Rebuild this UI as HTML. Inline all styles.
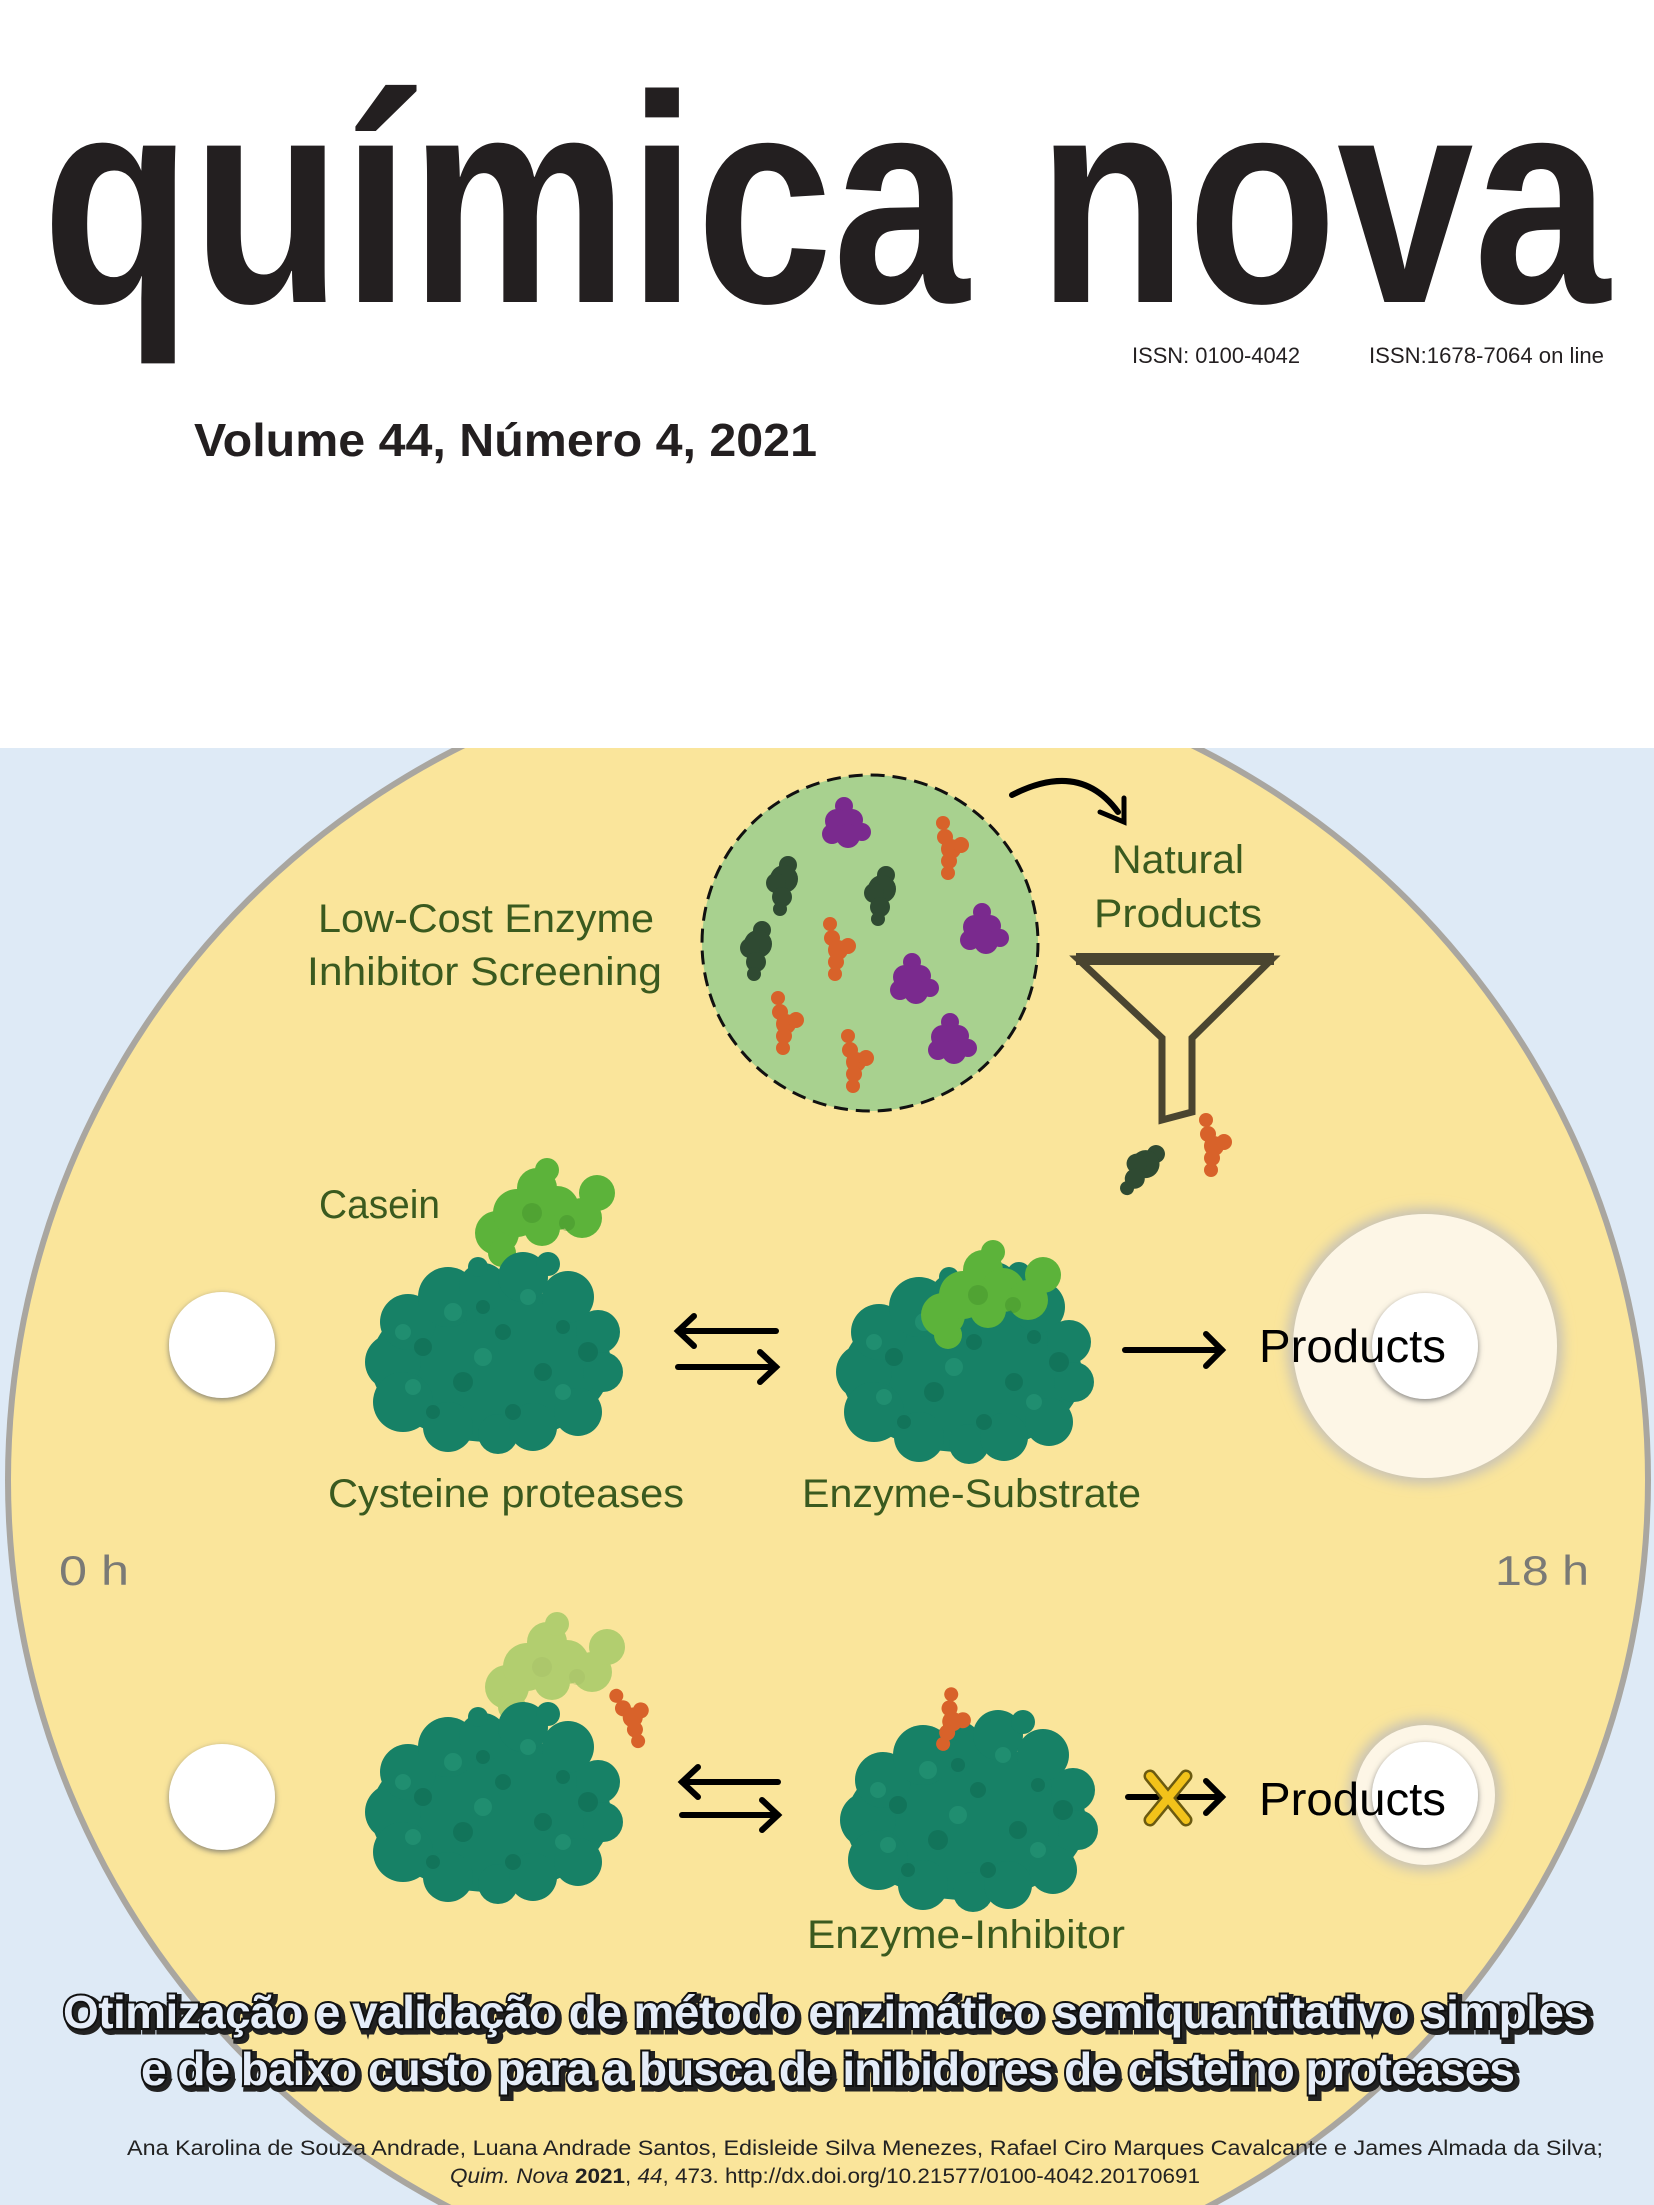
<!DOCTYPE html>
<html><head><meta charset="utf-8"><style>
html,body{margin:0;padding:0;background:#fff}
svg{display:block}
</style></head><body>
<svg width="1654" height="2205" viewBox="0 0 1654 2205" xmlns="http://www.w3.org/2000/svg">
<defs>
<g id="enz">
<g fill="#178166">
<ellipse cx="128" cy="112" rx="120" ry="78"/>
<rect x="20" y="60" width="216" height="110" rx="30"/>
<circle cx="30" cy="110" r="28"/><circle cx="45" cy="70" r="28"/><circle cx="85" cy="45" r="30"/>
<circle cx="120" cy="35" r="24"/><circle cx="160" cy="25" r="25"/><circle cx="185" cy="12" r="12"/>
<circle cx="205" cy="45" r="26"/><circle cx="235" cy="80" r="22"/><circle cx="240" cy="120" r="20"/>
<circle cx="40" cy="150" r="30"/><circle cx="85" cy="175" r="25"/><circle cx="135" cy="182" r="20"/>
<circle cx="170" cy="175" r="24"/><circle cx="215" cy="160" r="24"/><circle cx="115" cy="15" r="10"/>
</g>
<g fill="#0f6a52" opacity="0.55">
<circle cx="60" cy="95" r="9"/><circle cx="140" cy="80" r="8"/><circle cx="100" cy="130" r="10"/>
<circle cx="180" cy="120" r="9"/><circle cx="225" cy="100" r="10"/><circle cx="150" cy="160" r="8"/>
<circle cx="70" cy="160" r="7"/><circle cx="200" cy="75" r="7"/><circle cx="120" cy="55" r="7"/>
</g>
<g fill="#2a9b7a" opacity="0.5">
<circle cx="40" cy="80" r="8"/><circle cx="90" cy="60" r="9"/><circle cx="165" cy="45" r="8"/>
<circle cx="120" cy="105" r="9"/><circle cx="200" cy="140" r="8"/><circle cx="50" cy="135" r="8"/>
</g>
</g>
<g id="cas">
<g fill="#5cb33a">
<circle cx="25" cy="75" r="22"/><circle cx="45" cy="55" r="24"/><circle cx="65" cy="30" r="20"/>
<circle cx="75" cy="12" r="12"/><circle cx="85" cy="50" r="22"/><circle cx="110" cy="60" r="20"/>
<circle cx="125" cy="35" r="18"/><circle cx="30" cy="95" r="14"/><circle cx="70" cy="70" r="18"/>
</g>
<g fill="#3f8d2a" opacity="0.4"><circle cx="60" cy="55" r="10"/><circle cx="95" cy="65" r="8"/></g>
</g>
<g id="org" fill="#d8622a">
<circle cx="8" cy="8" r="7"/><circle cx="10" cy="22" r="8"/><circle cx="16" cy="34" r="10"/>
<circle cx="26" cy="30" r="8"/><circle cx="14" cy="46" r="8"/><circle cx="13" cy="58" r="7"/>
</g>
<g id="pur" fill="#7a2a8e">
<circle cx="22" cy="10" r="9"/><circle cx="15" cy="25" r="12"/><circle cx="30" cy="24" r="11"/>
<circle cx="10" cy="38" r="10"/><circle cx="26" cy="40" r="12"/><circle cx="40" cy="36" r="9"/>
</g>
<g id="dg" fill="#2f4a32">
<circle cx="24" cy="10" r="9"/><circle cx="20" cy="24" r="14"/><circle cx="12" cy="28" r="10"/>
<circle cx="18" cy="42" r="10"/><circle cx="16" cy="54" r="7"/>
</g>
<filter id="blur"><feGaussianBlur stdDeviation="6"/></filter>
<filter id="sh"><feDropShadow dx="0" dy="2" stdDeviation="3" flood-color="#666" flood-opacity="0.8"/></filter>
</defs>

<rect x="0" y="0" width="1654" height="2205" fill="#fff"/>
<rect x="0" y="748" width="1654" height="1457" fill="#deeaf6"/>
<g clip-path="url(#c1)">
<clipPath id="c1"><rect x="0" y="748" width="1654" height="1457"/></clipPath>
<circle cx="828" cy="1480" r="823" fill="#a9a6a0"/>
<circle cx="828" cy="1480" r="817" fill="#fae59b"/>
</g>

<!-- header -->
<text x="42" y="302" font-family="Liberation Sans" font-weight="bold" font-size="296" fill="#231f20" textLength="1568" lengthAdjust="spacingAndGlyphs">química nova</text>
<text x="1132" y="363" font-family="Liberation Sans" font-size="22" fill="#231f20" textLength="168" lengthAdjust="spacingAndGlyphs">ISSN: 0100-4042</text>
<text x="1369" y="363" font-family="Liberation Sans" font-size="22" fill="#231f20" textLength="235" lengthAdjust="spacingAndGlyphs">ISSN:1678-7064 on line</text>
<text x="194" y="456" font-family="Liberation Sans" font-weight="bold" font-size="46" fill="#231f20" textLength="623" lengthAdjust="spacingAndGlyphs">Volume 44, Número 4, 2021</text>

<!-- screening -->
<g font-family="Liberation Sans" fill="#3a5a1f" font-size="40">
<text x="318" y="932" textLength="336" lengthAdjust="spacingAndGlyphs">Low-Cost Enzyme</text>
<text x="307" y="985" textLength="355" lengthAdjust="spacingAndGlyphs">Inhibitor Screening</text>
<text x="1112" y="873" textLength="132" lengthAdjust="spacingAndGlyphs">Natural</text>
<text x="1094" y="927" textLength="168" lengthAdjust="spacingAndGlyphs">Products</text>
<text x="319" y="1218" textLength="121" lengthAdjust="spacingAndGlyphs">Casein</text>
<text x="328" y="1507" textLength="356" lengthAdjust="spacingAndGlyphs">Cysteine proteases</text>
<text x="802" y="1507" textLength="339" lengthAdjust="spacingAndGlyphs">Enzyme-Substrate</text>
<text x="807" y="1948" textLength="318" lengthAdjust="spacingAndGlyphs">Enzyme-Inhibitor</text>
</g>
<circle cx="870" cy="943" r="168" fill="#a8d18f" stroke="#111" stroke-width="3" stroke-dasharray="14 8"/>
<use href="#pur" x="822" y="796"/><use href="#pur" x="960" y="902"/><use href="#pur" x="890" y="952"/><use href="#pur" x="928" y="1012"/>
<use href="#org" x="935" y="815"/><use href="#org" x="822" y="916"/><use href="#org" x="770" y="990"/><use href="#org" x="840" y="1028"/>
<use href="#dg" x="764" y="855"/><use href="#dg" x="862" y="865"/><use href="#dg" x="738" y="920"/>
<path d="M1012 795 Q1080 760 1118 812" fill="none" stroke="#000" stroke-width="6" stroke-linecap="round"/>
<path d="M1100 812 L1124 822 L1124 798" fill="none" stroke="#000" stroke-width="5" stroke-linecap="round"/>
<path d="M1078 959 L1272 959 L1192 1038 L1192 1112 L1162 1120 L1162 1038 Z" fill="none" stroke="#4a4530" stroke-width="7" stroke-linejoin="miter"/>
<line x1="1076" y1="959" x2="1274" y2="959" stroke="#4a4530" stroke-width="12"/>
<use href="#dg" x="1125" y="1140" transform="rotate(30 1145 1165)"/>
<use href="#org" x="1198" y="1112"/>

<!-- row 1 -->
<circle cx="222" cy="1345" r="53" fill="#fff" filter="url(#sh)"/>
<use href="#cas" x="472" y="1158"/>
<use href="#enz" x="363" y="1252"/>
<g stroke="#000" stroke-width="6" fill="none" stroke-linecap="round">
<line x1="678" y1="1331" x2="776" y2="1331"/><path d="M694 1316 L678 1331 L694 1346"/>
<line x1="678" y1="1367" x2="776" y2="1367"/><path d="M760 1352 L776 1367 L760 1382"/>
<line x1="1125" y1="1350" x2="1222" y2="1350"/><path d="M1206 1334 L1222 1350 L1206 1366"/>
</g>
<use href="#enz" x="834" y="1262"/>
<use href="#cas" x="918" y="1240"/>
<circle cx="1425" cy="1346" r="138" fill="#c9c3b5" filter="url(#blur)"/>
<circle cx="1425" cy="1346" r="132" fill="#fdf6e6"/>
<circle cx="1425" cy="1346" r="53" fill="#fff" filter="url(#sh)"/>
<text x="1259" y="1362" font-family="Liberation Sans" font-size="46" fill="#000" textLength="187" lengthAdjust="spacingAndGlyphs">Products</text>

<text x="59" y="1585" font-family="Liberation Sans" font-size="42" fill="#7a7a76" textLength="70" lengthAdjust="spacingAndGlyphs">0 h</text>
<text x="1495" y="1585" font-family="Liberation Sans" font-size="42" fill="#7a7a76" textLength="94" lengthAdjust="spacingAndGlyphs">18 h</text>

<!-- row 2 -->
<circle cx="222" cy="1797" r="53" fill="#fff" filter="url(#sh)"/>
<use href="#cas" x="482" y="1612" opacity="0.45"/>
<use href="#org" x="614" y="1684" transform="rotate(-20 630 1710)"/>
<use href="#enz" x="363" y="1702"/>
<g stroke="#000" stroke-width="6" fill="none" stroke-linecap="round">
<line x1="682" y1="1782" x2="778" y2="1782"/><path d="M698 1767 L682 1782 L698 1797"/>
<line x1="682" y1="1815" x2="778" y2="1815"/><path d="M762 1800 L778 1815 L762 1830"/>
<line x1="1128" y1="1797" x2="1222" y2="1797"/><path d="M1206 1781 L1222 1797 L1206 1813"/>
</g>
<use href="#enz" x="838" y="1710"/>
<use href="#org" x="938" y="1688" transform="rotate(15 955 1715)"/>
<g stroke="#6b5a10" stroke-width="13" stroke-linecap="round"><line x1="1150" y1="1776" x2="1186" y2="1820"/><line x1="1186" y1="1776" x2="1150" y2="1820"/></g>
<g stroke="#f2c21a" stroke-width="8" stroke-linecap="round"><line x1="1150" y1="1776" x2="1186" y2="1820"/><line x1="1186" y1="1776" x2="1150" y2="1820"/></g>
<circle cx="1425" cy="1795" r="76" fill="#c9c3b5" filter="url(#blur)"/>
<circle cx="1425" cy="1795" r="70" fill="#fdf6e6"/>
<circle cx="1425" cy="1795" r="53" fill="#fff" filter="url(#sh)"/>
<text x="1259" y="1815" font-family="Liberation Sans" font-size="46" fill="#000" textLength="187" lengthAdjust="spacingAndGlyphs">Products</text>

<!-- title -->
<g font-family="Liberation Sans" font-weight="bold" font-size="46" lengthAdjust="spacingAndGlyphs">
<text x="66" y="2031" fill="#222" stroke="#222" stroke-width="7" textLength="1526">Otimização e validação de método enzimático semiquantitativo simples</text>
<text x="63" y="2028" fill="#e4ecf8" stroke="#111" stroke-width="4" paint-order="stroke" textLength="1526">Otimização e validação de método enzimático semiquantitativo simples</text>
<text x="144" y="2088" fill="#222" stroke="#222" stroke-width="7" textLength="1374">e de baixo custo para a busca de inibidores de cisteino proteases</text>
<text x="141" y="2085" fill="#e4ecf8" stroke="#111" stroke-width="4" paint-order="stroke" textLength="1374">e de baixo custo para a busca de inibidores de cisteino proteases</text>
</g>
<text x="127" y="2155" font-family="Liberation Sans" font-size="21" fill="#222" textLength="1476" lengthAdjust="spacingAndGlyphs">Ana Karolina de Souza Andrade, Luana Andrade Santos, Edisleide Silva Menezes, Rafael Ciro Marques Cavalcante e James Almada da Silva;</text>
<text x="450" y="2183" font-family="Liberation Sans" font-size="21" fill="#222" textLength="750" lengthAdjust="spacingAndGlyphs"><tspan font-style="italic">Quim. Nova</tspan> <tspan font-weight="bold">2021</tspan>, <tspan font-style="italic">44</tspan>, 473. http://dx.doi.org/10.21577/0100-4042.20170691</text>
</svg>
</body></html>
